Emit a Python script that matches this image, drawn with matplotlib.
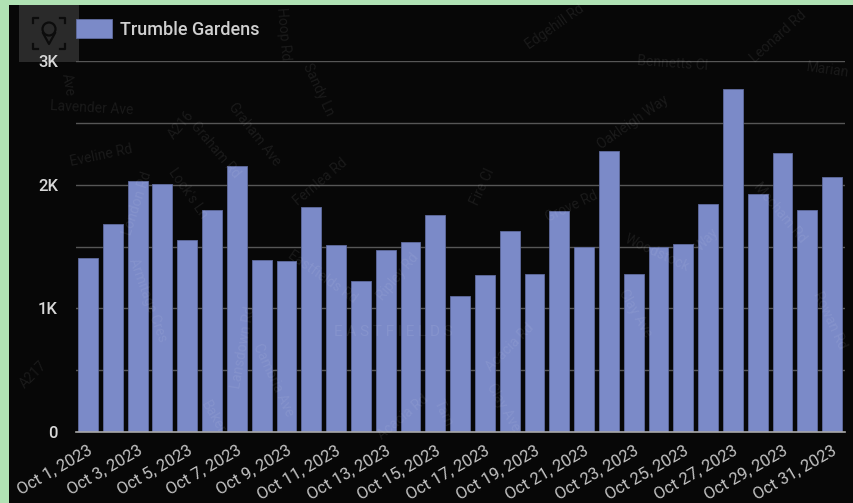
import matplotlib
matplotlib.use("Agg")
import matplotlib.pyplot as plt
from matplotlib.lines import Line2D
from matplotlib.patches import Circle, Rectangle

plt.rcParams["font.family"] = ["Roboto", "DejaVu Sans"]

W, H = 854, 503

days = [f"Oct {d}, 2023" for d in range(1, 32)]
visits = [1407, 1682, 2030, 2005, 1552, 1795, 2151, 1391, 1383, 1819,
          1512, 1221, 1472, 1536, 1755, 1100, 1270, 1625, 1278, 1787,
          1496, 2272, 1278, 1496, 1520, 1844, 2774, 1925, 2256, 1795, 2062]
series_name = "Trumble Gardens"
y_ticks = [0, 1000, 2000, 3000]
y_labels = ["0", "1K", "2K", "3K"]
y_grid = [500, 1500, 2500]

# faint street names on the map, they show through the bars too: text, x, y, angle
map_labels = [
    ("Lavender Ave", 92, 108, -3), ("Eveline Rd", 101, 155, 12), ("Ave", 68, 85, -80),
    ("A216", 181, 125, 50), ("Graham Ave", 254, 134, -52), ("Graham Rd", 215, 150, -50),
    ("Hoop Rd", 283, 34, -85), ("Sandy Ln", 318, 90, -65), ("London Rd", 137, 203, 72),
    ("Lock's Ln", 188, 193, -55), ("Armitage Cres", 148, 300, -70),
    ("Lansdown Rd", 243, 347, 80), ("Cambria Ave", 273, 380, -65), ("Baker", 213, 417, -60),
    ("A217", 33, 375, 45), ("Fernlea Rd", 320, 182, 40), ("Eastfields Rd", 322, 277, -35),
    ("Ripley Rd", 398, 277, 50), ("Fire Cl", 483, 187, 65), ("Acacia Rd", 510, 347, 45),
    ("Acacia Rd", 403, 417, 40), ("Clay Ave", 503, 407, -60), ("Tarn", 443, 413, -65),
    ("Grove Rd", 572, 207, 25), ("Woodstock", 657, 253, -25), ("Way", 707, 240, 45),
    ("Clay Ave", 635, 313, -60), ("Mecham Rd", 780, 213, -50), ("Rowan Rd", 830, 320, -65),
    ("Oakleigh Way", 633, 122, 35), ("Bennetts Cl", 673, 63, -4), ("Leonard Rd", 778, 37, 42),
    ("Marian", 828, 70, -8), ("Edgehill Rd", 555, 27, 35),
]

fig = plt.figure(figsize=(W / 100, H / 100), dpi=100, facecolor="#B0E2B4")

# dark map panel inside the pale green frame
bg = fig.add_axes([9 / W, 0, 1 - 9 / W, 1 - 5 / H])
bg.set_facecolor("#070707")
bg.set_xticks([])
bg.set_yticks([])
for s in bg.spines.values():
    s.set_visible(False)

# location button in the corner of the map
fig.add_artist(Rectangle((19 / W, 1 - 62 / H), 60 / W, 57 / H, transform=fig.transFigure,
                         facecolor="#2A2A2A", edgecolor="none", zorder=1))
icon = "#0C0C0C"
fig.add_artist(Circle((49, H - 29), 6.5, transform=None, fill=False,
                      edgecolor=icon, linewidth=1.6, zorder=2))
pin_xs = [43, 49, 55]
pin_ys = [33, 44, 33]
fig.add_artist(Line2D(pin_xs, [H - v for v in pin_ys], transform=None, color=icon,
                      linewidth=1.6, zorder=2))
for cx, cy, dx, dy in [(33, 18, 1, 1), (65, 18, -1, 1), (33, 49, 1, -1), (65, 49, -1, -1)]:
    fig.add_artist(Line2D([cx + 5 * dx, cx, cx], [H - cy, H - cy, H - cy - 5 * dy],
                          transform=None, color=icon, linewidth=1.6, zorder=2))

ax = fig.add_axes([76 / W, 1 - 432 / H, (845 - 76) / W, (432 - 61) / H], zorder=3)
ax.patch.set_alpha(0)

x = list(range(len(days)))
ax.bar(x, visits, width=0.8, color="#7B8AC8", edgecolor="#5F6B9E", linewidth=0.6,
       zorder=3, label=series_name)

ax.set_xlim(-0.484, 30.52)
ax.set_ylim(0, 3000)
ax.set_yticks(y_ticks)
ax.set_yticklabels(y_labels, fontweight="medium")
ax.set_yticks(y_grid, minor=True)
ax.set_xticks(x[::2])
ax.set_xticklabels(days[::2], rotation=30, ha="right", rotation_mode="anchor")

ax.grid(axis="y", which="both", color="#565656", linewidth=1, zorder=0)
ax.tick_params(axis="y", which="both", length=0, pad=13, labelsize=12, labelcolor="#D8D8D8")
ax.tick_params(axis="x", length=0, pad=8, labelsize=12, labelcolor="#C4C4C4")
for s in ["top", "left", "right"]:
    ax.spines[s].set_visible(False)
ax.spines["bottom"].set_color("#A8A8A8")
ax.spines["bottom"].set_linewidth(1.2)
ax.spines["bottom"].set_zorder(4)

ax.legend(loc="center left", bbox_to_anchor=(0, (432 - 29) / (432 - 61)), frameon=False,
          prop={"size": 13, "weight": "medium"}, labelcolor="#D0D0D0", handlelength=2.0,
          handleheight=1.2, handletextpad=0.44, borderaxespad=0, borderpad=0)

for txt, px, py, rot in map_labels:
    fig.text(px / W, 1 - py / H, txt, color="white", alpha=0.08, fontsize=10, rotation=rot,
             ha="center", va="center", zorder=5)
fig.text(393 / W, 1 - 332 / H, "E A S T F I E L D S", color="white", alpha=0.08,
         fontsize=11, ha="center", va="center", zorder=5)

fig.savefig("out.png", dpi=100, facecolor=fig.get_facecolor())
